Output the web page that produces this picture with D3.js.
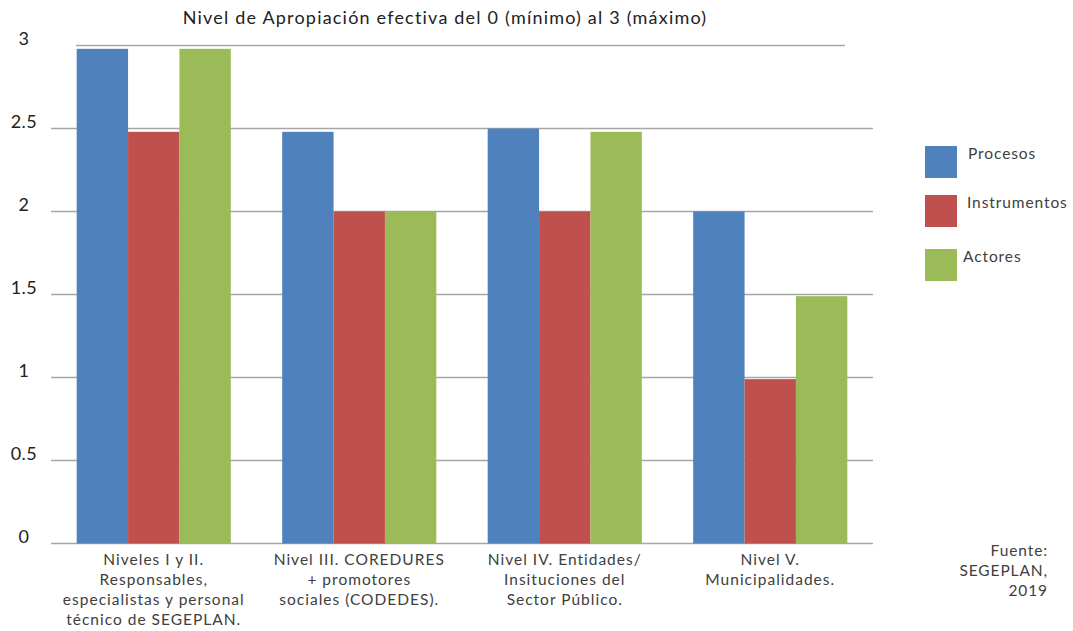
<!DOCTYPE html>
<html>
<head>
<meta charset="utf-8">
<script src="https://cdn.jsdelivr.net/npm/d3@7"></script>
<style>
  body { margin: 0; background: #fff; }
  svg text { font-family: Lato, "Noto Sans", sans-serif; fill: #404040; }
</style>
</head>
<body>
<script>
// chart data
const categories = [
  ["Niveles I y II.", "Responsables,", "especialistas y personal", "técnico de SEGEPLAN."],
  ["Nivel III. COREDURES", "+ promotores", "sociales (CODEDES)."],
  ["Nivel IV. Entidades/", "Insituciones del", "Sector Público."],
  ["Nivel V.", "Municipalidades."]
];
const seriesNames = ["Procesos", "Instrumentos", "Actores"];
const procesos = [2.98, 2.48, 2.5, 2.0];
const instrumentos = [2.48, 2.0, 2.0, 0.99];
const actores = [2.98, 2.0, 2.48, 1.49];
const yTicks = [0, 0.5, 1, 1.5, 2, 2.5, 3];
const colors = ["#4F81BD", "#C0504D", "#9BBB59"];

const series = [procesos, instrumentos, actores];

let width = 1073, height = 631;

let svg = d3.select('body').append('svg')
  .attr('width', width)
  .attr('height', height);

let x0 = d3.scaleBand()
  .domain(d3.range(categories.length))
  .range([51, 873])
  .paddingInner(0.25)
  .paddingOuter(0.125);

let x1 = d3.scaleBand()
  .domain(d3.range(series.length))
  .range([0, x0.bandwidth()]);

let y = d3.scaleLinear()
  .domain([0, 3])
  .range([543.5, 45.5]);

// gridlines (top one is shorter in the original)
svg.append('g').selectAll('line')
  .data(yTicks)
  .enter()
  .append('line')
  .attr('x1', d => d === 3 ? 76 : 51)
  .attr('x2', d => d === 3 ? 845 : 873)
  .attr('y1', d => y(d))
  .attr('y2', d => y(d))
  .style('stroke', '#a6a6a6')
  .style('stroke-width', 1.5);

// y labels
svg.append('g').selectAll('text')
  .data(yTicks)
  .enter()
  .append('text')
  .attr('x', 24)
  .attr('y', d => y(d) - 1)
  .attr('text-anchor', 'middle')
  .style('font-size', '18px')
  .style('letter-spacing', '0.5px')
  .style('fill', '#222')
  .text(d => d);

// bars
let groups = svg.append('g').selectAll('g')
  .data(categories)
  .enter()
  .append('g')
  .attr('transform', (d, i) => 'translate(' + x0(i) + ',0)');

groups.selectAll('rect')
  .data((d, i) => series.map((s, j) => ({ s: j, v: s[i] })))
  .enter()
  .append('rect')
  .attr('x', d => x1(d.s))
  .attr('width', x1.bandwidth())
  .attr('y', d => y(d.v))
  .attr('height', d => y(0) - y(d.v))
  .style('fill', d => colors[d.s]);

// category labels
groups.append('text')
  .attr('x', x0.bandwidth() / 2)
  .attr('text-anchor', 'middle')
  .style('font-size', '15.5px')
  .style('letter-spacing', '1px')
  .selectAll('tspan')
  .data(d => d)
  .enter()
  .append('tspan')
  .attr('x', x0.bandwidth() / 2)
  .attr('y', (d, i) => 565 + i * 20)
  .text(d => d);

// title
svg.append('text')
  .attr('x', 445)
  .attr('y', 24)
  .attr('text-anchor', 'middle')
  .style('font-size', '18px')
  .style('letter-spacing', '1.2px')
  .style('fill', '#222')
  .text('Nivel de Apropiación efectiva del 0 (mínimo) al 3 (máximo)');

// legend
const legendY = [146, 195, 249];
const legendTextX = [968, 967, 963];
let legend = svg.append('g').selectAll('g')
  .data(seriesNames)
  .enter()
  .append('g');

legend.append('rect')
  .attr('x', 925)
  .attr('y', (d, i) => legendY[i])
  .attr('width', 32)
  .attr('height', 32)
  .style('fill', (d, i) => colors[i]);

legend.append('text')
  .attr('x', (d, i) => legendTextX[i])
  .attr('y', (d, i) => legendY[i] + 13)
  .style('font-size', '15.5px')
  .style('letter-spacing', '0.9px')
  .text(d => d);

// source
svg.append('text')
  .attr('text-anchor', 'end')
  .style('font-size', '15.5px')
  .style('letter-spacing', '0.9px')
  .selectAll('tspan')
  .data(['Fuente:', 'SEGEPLAN,', '2019'])
  .enter()
  .append('tspan')
  .attr('x', 1048)
  .attr('y', (d, i) => 556 + i * 20)
  .text(d => d);
</script>
</body>
</html>
